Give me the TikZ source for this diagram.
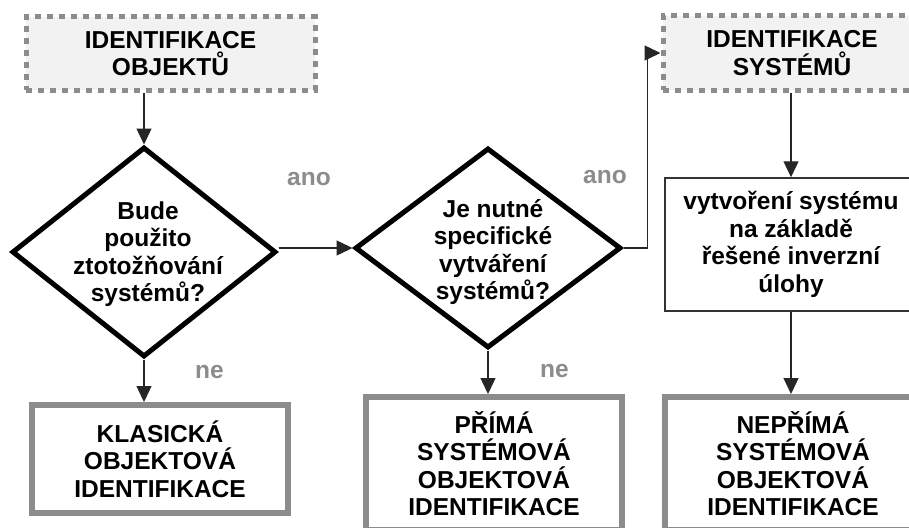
\documentclass[tikz,border=0pt]{standalone}
\usepackage{fontspec}
\setmainfont{Liberation Sans}
\usetikzlibrary{shapes.geometric,arrows.meta}
\begin{document}
\begin{tikzpicture}[x=1pt,y=-1pt,
  txt/.style={font=\bfseries\fontsize{24.5}{27.5}\selectfont, align=center, text=black},
  dashbox/.style={txt, draw=black!45, line width=5pt, dash pattern=on 6pt off 6pt, fill=black!5, inner sep=0pt},
  decision/.style={shape=diamond, draw=black, line width=5pt, inner sep=0pt},
  resultbox/.style={txt, draw=black!45, line width=6pt, fill=white, inner sep=0pt},
  plainbox/.style={txt, draw=black!80, line width=1.5pt, fill=white, inner sep=0pt},
  arr/.style={draw=black!85, line width=1.4pt, -{Triangle[length=16pt,width=15pt]}},
  lab/.style={font=\bfseries\fontsize{24.5}{27.5}\selectfont, text=black!45, inner sep=0pt, anchor=base west}]
\useasboundingbox (0,0) rectangle (909,527);
\clip (0,0) rectangle (909,527);
\fill[white] (0,0) rectangle (909,527);

% top boxes
\node[dashbox, minimum width=289pt, minimum height=73pt] (tl) at (170.5,53.5) {IDENTIFIKACE\\OBJEKTŮ};
\node[dashbox, minimum width=258pt, minimum height=74pt] (tr) at (792,53) {IDENTIFIKACE\\SYSTÉMŮ};

% decisions
\node[decision, minimum width=264pt, minimum height=210pt] (d1) at (144,252) {};
\node[txt] (t1) at (148,254) {Bude\\použito\\ztotožňování\\systémů?};
\node[decision, minimum width=266pt, minimum height=200pt] (d2) at (488,248) {};
\node[txt] (t2) at (493,252) {Je nutné\\specifické\\vytváření\\systémů?};

% right process box
\node[plainbox, minimum width=252pt, minimum height=133pt] (rb) at (791,244.5) {vytvoření systému\\na základě\\řešené inverzní\\úlohy};

% result boxes
\node[resultbox, minimum width=256pt, minimum height=108pt] (b1) at (160,459) {KLASICKÁ\\OBJEKTOVÁ\\IDENTIFIKACE};
\node[resultbox, minimum width=256pt, minimum height=133pt] (b2) at (494,463.5) {PŘÍMÁ\\SYSTÉMOVÁ\\OBJEKTOVÁ\\IDENTIFIKACE};
\node[resultbox, minimum width=256pt, minimum height=133pt] (b3) at (793,463.5) {NEPŘÍMÁ\\SYSTÉMOVÁ\\OBJEKTOVÁ\\IDENTIFIKACE};

% connectors
\draw[arr] (tl.south -| d1.north) -- (d1.north);
\draw[arr] (d1.east |- d2.west) -- (d2.west);
\draw[arr] (d1.south) -- (d1.south |- b1.north);
\draw[arr] (d2.south) -- (d2.south |- b2.north);
\draw[arr] (d2.east) -- ++(24,0) |- (tr.west);
\draw[arr] (tr.south -| rb.north) -- (rb.north);
\draw[arr] (rb.south) -- (rb.south |- b3.north);

% labels
\node[lab] (ano1) at (287,185) {ano};
\node[lab] (ano2) at (583,183) {ano};
\node[lab] (ne1) at (195,378) {ne};
\node[lab] (ne2) at (540,377) {ne};
\end{tikzpicture}
\end{document}
